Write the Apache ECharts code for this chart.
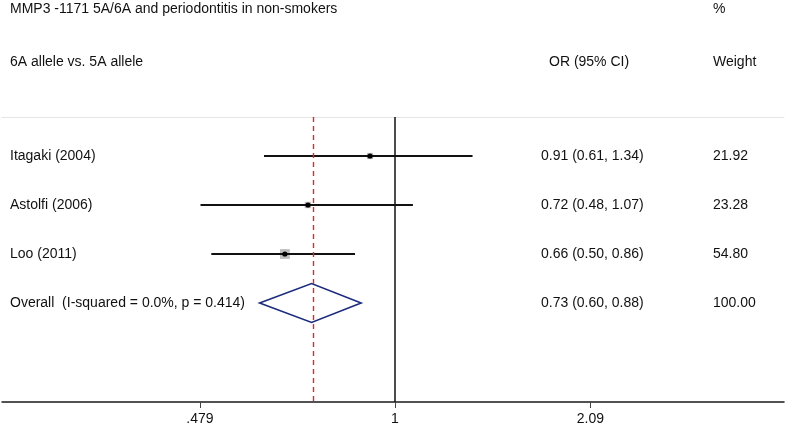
<!DOCTYPE html>
<html><head><meta charset="utf-8">
<script src="https://cdn.jsdelivr.net/npm/echarts@6/dist/echarts.min.js"></script>
<style>html,body{margin:0;padding:0;background:#fff}#c{width:787px;height:427px}</style>
</head><body><div id="c"></div>
<script>
// ---- data ----
const studies = ['Itagaki (2004)', 'Astolfi (2006)', 'Loo (2011)'];
const orVals = [0.91, 0.72, 0.66];
const ciLow = [0.61, 0.48, 0.50];
const ciHigh = [1.34, 1.07, 0.86];
const weights = [21.92, 23.28, 54.80];
const overallLabel = ['Overall  (I-squared = 0.0%, p = 0.414)'];
const overallOR = [0.73];
const overallLow = [0.60];
const overallHigh = [0.88];
const overallWeight = [100.00];
const tickValues = [0.479, 1, 2.09];
const tickLabels = ['.479', '1', '2.09'];
const titleText = 'MMP3 -1171 5A/6A and periodontitis in non-smokers';
const subtitleText = '6A allele vs. 5A allele';
const colHeadOR = 'OR (95% CI)';
const colHeadPct = '%';
const colHeadW = 'Weight';

// ---- build ----
const FONT = '14px "Liberation Sans", Arial, sans-serif';
const TXT = '#111';
const ln = Math.log;
const nStudies = studies.length;

const tableRows = studies.map((s, i) => ({
  name: s,
  ci: orVals[i].toFixed(2) + ' (' + ciLow[i].toFixed(2) + ', ' + ciHigh[i].toFixed(2) + ')',
  w: weights[i].toFixed(2)
})).concat([{
  name: overallLabel[0],
  ci: overallOR[0].toFixed(2) + ' (' + overallLow[0].toFixed(2) + ', ' + overallHigh[0].toFixed(2) + ')',
  w: overallWeight[0].toFixed(2)
}]);

const studyData = studies.map((s, i) => [ln(ciLow[i]), ln(ciHigh[i]), i, ln(orVals[i]), weights[i]]);
const overallData = [[ln(overallLow[0]), ln(overallHigh[0]), nStudies, ln(overallOR[0])]];
const tableData = tableRows.map((r, i) => [0, i]);

const chart = echarts.init(document.getElementById('c'), null, {renderer: 'canvas'});
const option = {
  animation: false,
  backgroundColor: '#fff',
  grid: {left: 2, right: 3, top: 117, bottom: 25, containLabel: false},
  xAxis: [{
    type: 'value', min: -1.483, max: 1.468, position: 'bottom',
    axisLine: {show: true, onZero: false, lineStyle: {color: '#1a1a1a', width: 1.5}},
    axisTick: {show: true, length: 6, customValues: tickValues.map(ln), lineStyle: {color: '#444', width: 1}},
    axisLabel: {
      show: true, customValues: tickValues.map(ln), margin: 10,
      color: TXT, fontSize: 14, fontFamily: '"Liberation Sans", Arial, sans-serif',
      formatter: function (v) {
        let best = 0, d = Infinity;
        tickValues.forEach((t, k) => { const dd = Math.abs(ln(t) - v); if (dd < d) { d = dd; best = k; } });
        return tickLabels[best];
      }
    },
    splitLine: {show: false}
  }, {
    type: 'value', min: -1.483, max: 1.468, position: 'top',
    axisLine: {show: true, onZero: false, lineStyle: {color: '#e4e4e4', width: 1}},
    axisTick: {show: false}, axisLabel: {show: false}, splitLine: {show: false}
  }],
  yAxis: {type: 'value', inverse: true, min: -0.796, max: 5.02, show: false},
  graphic: [
    {type: 'text', x: 10, y: 9, style: {text: titleText, font: FONT, fill: TXT, verticalAlign: 'middle', textVerticalAlign: 'middle'}},
    {type: 'text', x: 10, y: 62, style: {text: subtitleText, font: FONT, fill: TXT, verticalAlign: 'middle', textVerticalAlign: 'middle'}},
    {type: 'text', x: 549, y: 62, style: {text: colHeadOR, font: FONT, fill: TXT, verticalAlign: 'middle', textVerticalAlign: 'middle'}},
    {type: 'text', x: 713, y: 9, style: {text: colHeadPct, font: FONT, fill: TXT, verticalAlign: 'middle', textVerticalAlign: 'middle'}},
    {type: 'text', x: 713, y: 62, style: {text: colHeadW, font: FONT, fill: TXT, verticalAlign: 'middle', textVerticalAlign: 'middle'}}
  ],
  series: [
    {
      type: 'custom', name: 'studies', z: 3,
      data: studyData,
      encode: {x: [0, 1, 3], y: 2},
      renderItem: function (params, api) {
        const y = api.value(2);
        const p1 = api.coord([api.value(0), y]);
        const p2 = api.coord([api.value(1), y]);
        const pc = api.coord([api.value(3), y]);
        const side = 1.33 * Math.sqrt(api.value(4));
        return {
          type: 'group',
          children: [
            {type: 'rect', shape: {x: pc[0] - side / 2, y: pc[1] - side / 2, width: side, height: side},
             style: {fill: '#bdbdbd', stroke: null}},
            {type: 'line', shape: {x1: p1[0], y1: p1[1], x2: p2[0], y2: p2[1]},
             style: {stroke: '#111', lineWidth: 1.8}},
            {type: 'circle', shape: {cx: pc[0], cy: pc[1], r: 2.6}, style: {fill: '#000'}}
          ]
        };
      }
    },
    {
      type: 'custom', name: 'overall', z: 4,
      data: overallData,
      encode: {x: [0, 1, 3], y: 2},
      renderItem: function (params, api) {
        const y = api.value(2);
        const pl = api.coord([api.value(0), y]);
        const pr = api.coord([api.value(1), y]);
        const pc = api.coord([api.value(3), y]);
        const h = 19.5;
        return {
          type: 'polygon',
          shape: {points: [[pl[0], pl[1]], [pc[0], pc[1] - h], [pr[0], pr[1]], [pc[0], pc[1] + h]]},
          style: {fill: 'none', stroke: '#1b2a7a', lineWidth: 1.6}
        };
      },
      markLine: {
        silent: true, symbol: 'none', label: {show: false},
        data: [
          {xAxis: 0, lineStyle: {color: '#111', width: 1.5, type: 'solid'}},
          {xAxis: ln(overallOR[0]), lineStyle: {color: '#e02828', width: 1.4, type: [5, 4]}}
        ]
      }
    },
    {
      type: 'custom', name: 'table', z: 5, clip: false,
      data: tableData,
      encode: {x: 0, y: 1},
      renderItem: function (params, api) {
        const r = tableRows[params.dataIndex];
        const y = api.coord([0, api.value(1)])[1];
        const mk = (x, t) => ({type: 'text', x: x, y: y,
          style: {text: t, font: FONT, fill: TXT, textAlign: 'left', textVerticalAlign: 'middle', verticalAlign: 'middle'}});
        return {type: 'group', children: [mk(10, r.name), mk(541, r.ci), mk(713, r.w)]};
      }
    }
  ]
};
chart.setOption(option);
</script>
</body></html>
